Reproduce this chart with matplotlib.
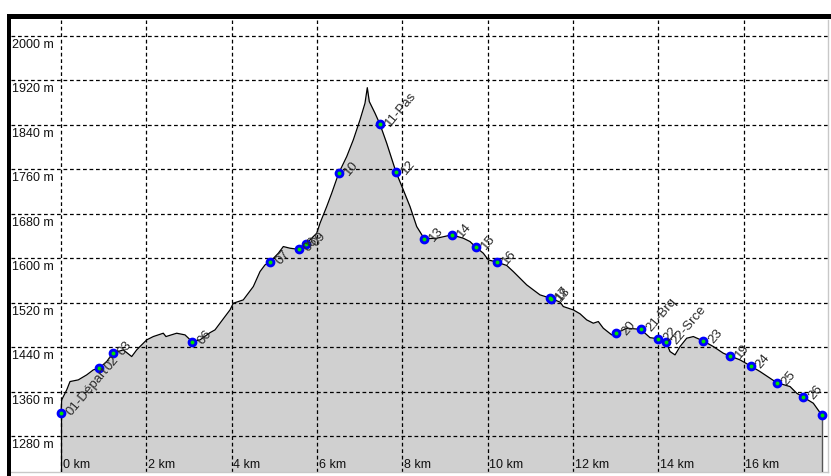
import matplotlib
matplotlib.use("Agg")
import matplotlib.pyplot as plt
from matplotlib.patches import Rectangle

plt.rcParams['font.family'] = ['Liberation Sans', 'DejaVu Sans']

# Elevation profile (distance in km, elevation in m)
dist_km = [0, 0.016, 0.134, 0.211, 0.405, 0.602, 0.757, 0.891, 1.071, 1.212,
           1.460, 1.657, 1.774, 1.851, 2.008, 2.163, 2.397, 2.46, 2.711, 2.906,
           3.07, 3.258, 3.492, 3.609, 3.726, 3.843, 3.961, 4.038, 4.272, 4.507,
           4.664, 4.781, 4.905, 5.093, 5.21, 5.367, 5.566, 5.742, 5.993, 6.07,
           6.227, 6.344, 6.508, 6.696, 6.85, 7.007, 7.124, 7.178, 7.225, 7.359,
           7.476, 7.633, 7.851, 8.022, 8.179, 8.336, 8.514, 8.805, 9.156, 9.428,
           9.585, 9.719, 9.897, 10.014, 10.211, 10.445, 10.6, 10.757, 10.914, 11.069,
           11.226, 11.472, 11.695, 11.772, 12.006, 12.163, 12.32, 12.475, 12.592, 12.709,
           12.906, 13.007, 13.258, 13.586, 13.804, 13.999, 14.179, 14.273, 14.39, 14.507,
           14.664, 14.819, 15.053, 15.288, 15.522, 15.679, 15.913, 16.164, 16.382, 16.617,
           16.774, 17.085, 17.242, 17.396, 17.631, 17.835]
elev_m = [1321, 1345, 1363, 1378, 1381, 1390, 1399, 1402, 1414, 1429,
          1435, 1423, 1435, 1441, 1453, 1459, 1465, 1459, 1465, 1462,
          1450, 1453, 1466, 1471, 1483, 1495, 1507, 1519, 1525, 1549,
          1576, 1588, 1594, 1609, 1621, 1618, 1616, 1626, 1645, 1663,
          1693, 1717, 1753, 1783, 1813, 1849, 1879, 1907, 1882, 1861,
          1841, 1807, 1755, 1723, 1693, 1657, 1635, 1636, 1642, 1636,
          1630, 1620, 1609, 1597, 1593, 1587, 1576, 1564, 1552, 1543,
          1534, 1528, 1521, 1513, 1507, 1500, 1489, 1483, 1486, 1474,
          1462, 1465, 1474, 1472, 1457, 1455, 1449, 1432, 1426, 1441,
          1456, 1459, 1451, 1441, 1429, 1424, 1417, 1406, 1396, 1384,
          1376, 1369, 1357, 1350, 1339, 1317]

# Waypoints
wp_names = ["01-Départ", "02", "03", "06", "07", "08", "09", "10", "11-Pas", "12",
            "13", "14", "15", "16", "17", "18", "20", "21-Brq", "22", "22-Srce",
            "23", "19", "24", "25", "26", ""]
wp_km = [0, 0.891, 1.212, 3.07, 4.905, 5.566, 5.742, 6.508, 7.476, 7.851,
         8.514, 9.156, 9.719, 10.211, 11.46, 11.48, 13.007, 13.586, 13.999, 14.179,
         15.053, 15.679, 16.164, 16.774, 17.396, 17.835]
wp_m = [1321, 1402, 1429, 1450, 1594, 1616, 1626, 1753, 1841, 1755,
        1635, 1642, 1620, 1593, 1528, 1527, 1465, 1472, 1455, 1449,
        1451, 1424, 1406, 1376, 1350, 1317]

x_ticks = [0, 2, 4, 6, 8, 10, 12, 14, 16]
y_ticks = [1280, 1360, 1440, 1520, 1600, 1680, 1760, 1840, 1920, 2000]

W, H = 831, 476
fig = plt.figure(figsize=(W / 100, H / 100), dpi=100)
fig.patch.set_facecolor('white')

ax_l, ax_r, ax_t, ax_b = 11, 828, 19.5, 472
ax = fig.add_axes([ax_l / W, (H - ax_b) / H, (ax_r - ax_l) / W, (ax_b - ax_t) / H])
ax.set_facecolor('white')

ymin, ymax = 1215.2, 2029.7
ax.set_xlim(-1.172, 17.975)
ax.set_ylim(ymin, ymax)

ax.fill_between(dist_km, elev_m, ymin - 10, color='#d0d0d0', lw=0, zorder=1)

dash = (0, (3, 2.2))
for xv in x_ticks:
    ax.axvline(xv, color='black', lw=0.9, ls=dash, zorder=2)
for yv in y_ticks:
    ax.axhline(yv, color='black', lw=0.9, ls=dash, zorder=2)

ax.plot(dist_km, elev_m, color='black', lw=0.9, zorder=3)
ax.plot([dist_km[0], dist_km[0]], [ymin, elev_m[0]], color='black', lw=0.9, zorder=3)
ax.plot([dist_km[-1], dist_km[-1]], [ymin, elev_m[-1]], color='#555555', lw=1.0, zorder=3)

ax.plot(wp_km, wp_m, ls='none', marker='o', ms=6, mfc='#0000ff', mec='#0000ff', zorder=4)
ax.plot(wp_km, wp_m, ls='none', marker='o', ms=1.8, mfc='#00e000', mec='#00e000', zorder=5)

for name, xk, ym in zip(wp_names, wp_km, wp_m):
    if name:
        ax.annotate(name, xy=(xk, ym), xytext=(10, -3), textcoords='offset pixels',
                    rotation=50, rotation_mode='anchor', ha='left', va='baseline',
                    fontsize=9.5, color='#2a2a2a', zorder=6)

for yv in y_ticks:
    ax.annotate(f"{yv} m", xy=(0, yv), xycoords=('axes fraction', 'data'),
                xytext=(1.5, -12), textcoords='offset pixels',
                ha='left', va='baseline', fontsize=9, color='#111111', zorder=6)
for xv in x_ticks:
    ax.annotate(f"{xv} km", xy=(xv, 0), xycoords=('data', 'axes fraction'),
                xytext=(1.5, 4), textcoords='offset pixels',
                ha='left', va='baseline', fontsize=9, color='#111111', zorder=6)

ax.set_xticks([])
ax.set_yticks([])
for s in ['top', 'left']:
    ax.spines[s].set_visible(False)
for s in ['right', 'bottom']:
    ax.spines[s].set_color('#c8c8c8')
    ax.spines[s].set_linewidth(1.0)

# window frame (black bars at top and left)
fig.add_artist(Rectangle((7 / W, 0), 4 / W, (H - 14) / H, transform=fig.transFigure,
                         facecolor='black', edgecolor='none'))
fig.add_artist(Rectangle((7 / W, (H - 19) / H), (W - 7) / W, 5 / H, transform=fig.transFigure,
                         facecolor='black', edgecolor='none'))

fig.savefig('out.png', dpi=100)
